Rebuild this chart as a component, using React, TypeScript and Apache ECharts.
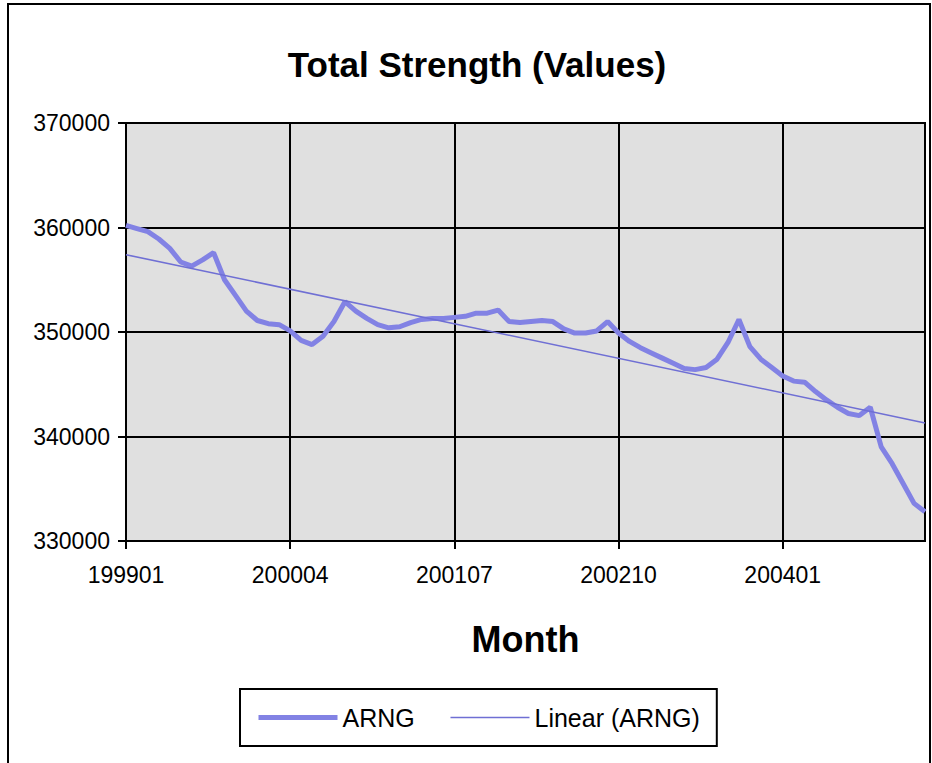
import React, { useEffect, useRef } from "react";
import * as echarts from "echarts";

const months: string[] = [
  "199901","199902","199903","199904","199905","199906","199907","199908","199909","199910","199911","199912",
  "200001","200002","200003","200004","200005","200006","200007","200008","200009","200010","200011","200012",
  "200101","200102","200103","200104","200105","200106","200107","200108","200109","200110","200111","200112",
  "200201","200202","200203","200204","200205","200206","200207","200208","200209","200210","200211","200212",
  "200301","200302","200303","200304","200305","200306","200307","200308","200309","200310","200311","200312",
  "200401","200402","200403","200404","200405","200406","200407","200408","200409","200410","200411","200412",
  "200501","200502",
];

const arng: number[] = [
  360200, 359900, 359600, 358900, 358000, 356700, 356300, 356900, 357600, 355000, 353500, 352000,
  351100, 350800, 350700, 350100, 349200, 348800, 349600, 351000, 352900, 352000, 351300, 350700,
  350400, 350500, 350900, 351200, 351300, 351300, 351400, 351500, 351800, 351800, 352100, 351000,
  350900, 351000, 351100, 351000, 350300, 349900, 349900, 350100, 351000, 349900, 349100, 348500,
  348000, 347500, 347000, 346500, 346400, 346600, 347400, 349000, 351200, 348600, 347400, 346600,
  345800, 345300, 345200, 344300, 343500, 342800, 342200, 342000, 342800, 339000, 337400, 335500,
  333600, 332800,
];

// Linear trend line (Excel trendline) endpoints
const trendMonths: string[] = ["199901", "200502"];
const trendValues: number[] = [357400, 341300];

const yTicks = { min: 330000, max: 370000, interval: 10000 };

const FONT = "Liberation Sans, Arial, sans-serif";
const MAIN_COLOR = "#8282e4";
const TREND_COLOR = "#6f6fd4";

export default function App() {
  const ref = useRef<HTMLDivElement>(null);
  useEffect(() => {
    document.body.style.margin = "0";
    if (!ref.current) return;
    const chart = echarts.init(ref.current, undefined, { renderer: "svg" });
    chart.setOption({
      animation: false,
      backgroundColor: "#ffffff",
      textStyle: { fontFamily: FONT },
      title: {
        text: "Total Strength (Values)",
        left: 472,
        top: 42,
        textAlign: "center",
        textStyle: { fontFamily: FONT, fontSize: 35, fontWeight: "bold", color: "#000" },
      },
      graphic: [
        {
          type: "rect",
          shape: { x: 8, y: 4, width: 922, height: 800 },
          style: { fill: "none", stroke: "#000", lineWidth: 2 },
          silent: true,
        },
      ],
      legend: {
        left: 240,
        top: 689,
        orient: "horizontal",
        padding: [16, 17, 16, 16],
        itemGap: 35,
        itemWidth: 79,
        itemHeight: 24,
        borderColor: "#000",
        borderWidth: 2,
        backgroundColor: "#fff",
        textStyle: { fontFamily: FONT, fontSize: 25, color: "#000" },
        data: [
          { name: "ARNG", itemStyle: { opacity: 0 }, lineStyle: { width: 5, color: MAIN_COLOR } },
          { name: "Linear (ARNG)", itemStyle: { opacity: 0 }, lineStyle: { width: 1.5, color: TREND_COLOR } },
        ],
      },
      grid: {
        left: 126,
        right: 7,
        top: 123,
        bottom: 222,
        show: true,
        backgroundColor: "#e0e0e0",
        borderColor: "#000",
        borderWidth: 2,
        containLabel: false,
      },
      xAxis: {
        type: "category",
        data: months,
        boundaryGap: false,
        name: "Month",
        nameLocation: "middle",
        nameGap: 80,
        nameTextStyle: { fontFamily: FONT, fontSize: 36, fontWeight: "bold", color: "#000" },
        axisLine: { show: true, lineStyle: { color: "#000", width: 2 } },
        axisTick: { show: true, interval: 14, length: 8, inside: false, lineStyle: { color: "#000", width: 2 } },
        axisLabel: { interval: 14, fontFamily: FONT, fontSize: 23, color: "#000", margin: 22 },
        splitLine: { show: true, interval: 14, lineStyle: { color: "#000", width: 2 } },
      },
      yAxis: {
        type: "value",
        min: yTicks.min,
        max: yTicks.max,
        interval: yTicks.interval,
        axisLine: { show: true, lineStyle: { color: "#000", width: 2 } },
        axisTick: { show: true, length: 8, inside: false, lineStyle: { color: "#000", width: 2 } },
        axisLabel: {
          fontFamily: FONT,
          fontSize: 23,
          color: "#000",
          margin: 16,
          formatter: (v: number) => String(v),
        },
        splitLine: { show: true, lineStyle: { color: "#000", width: 2 } },
      },
      series: [
        {
          name: "ARNG",
          type: "line",
          data: arng,
          symbol: "none",
          lineStyle: { color: MAIN_COLOR, width: 5 },
          itemStyle: { color: MAIN_COLOR },
          z: 3,
        },
        {
          name: "Linear (ARNG)",
          type: "line",
          data: trendMonths.map((m, i) => [m, trendValues[i]]),
          symbol: "none",
          lineStyle: { color: TREND_COLOR, width: 1.5 },
          itemStyle: { color: TREND_COLOR },
          z: 4,
        },
      ],
    });
    return () => chart.dispose();
  }, []);
  return (
    <div
      ref={ref}
      style={{ position: "absolute", left: 0, top: 0, width: 932, height: 763 }}
    />
  );
}
